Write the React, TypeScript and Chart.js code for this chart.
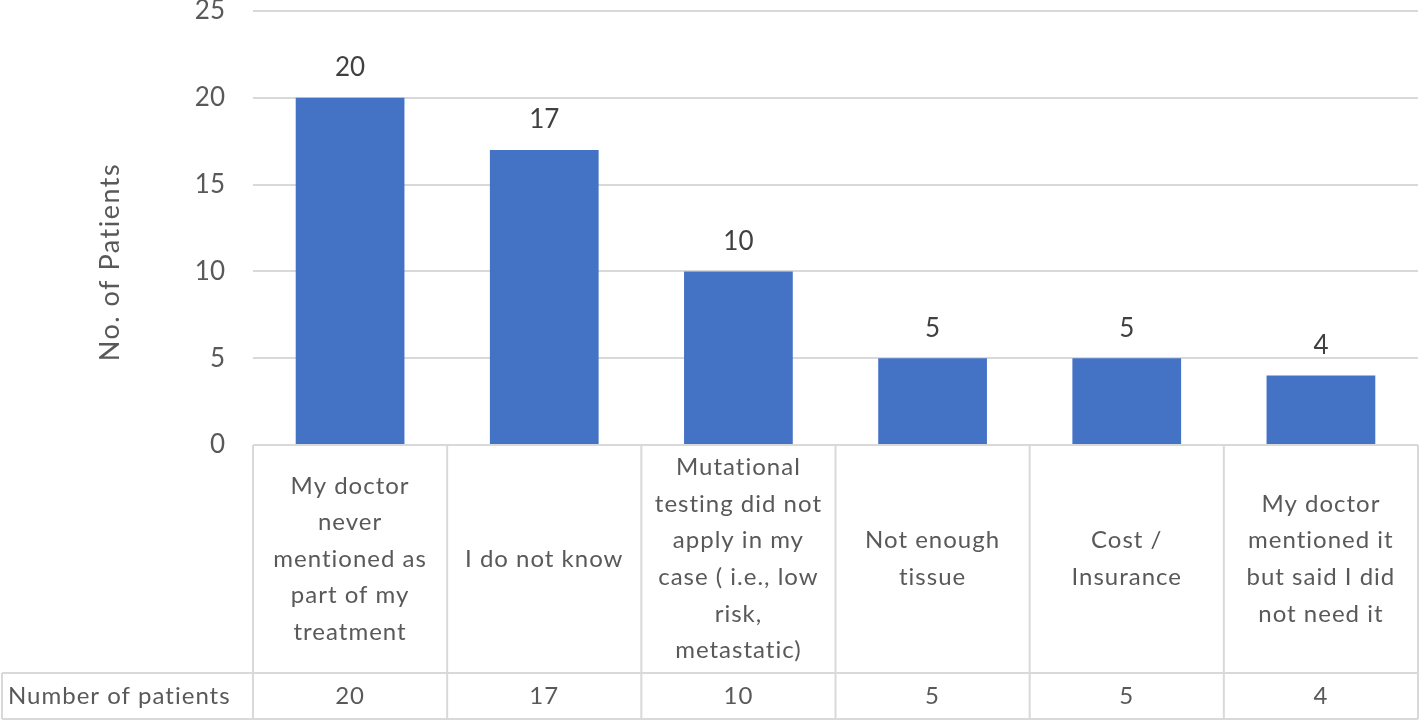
import React, { useEffect, useRef } from "react";
import { Chart, registerables } from "chart.js";

Chart.register(...registerables);

const categories: string[][] = [
  ["My doctor", "never", "mentioned as", "part of my", "treatment"],
  ["I do not know"],
  ["Mutational", "testing did not", "apply in my", "case ( i.e., low", "risk,", "metastatic)"],
  ["Not enough", "tissue"],
  ["Cost /", "Insurance"],
  ["My doctor", "mentioned it", "but said I did", "not need it"],
];
const seriesName = "Number of patients";
const values: number[] = [20, 17, 10, 5, 5, 4];
const yTicks: number[] = [0, 5, 10, 15, 20, 25];
const yTitle = "No. of Patients";

const FONT = "Lato, 'Open Sans', sans-serif";
const TEXT = "#595959";
const LINE = "#d9d9d9";

const tablePlugin = {
  id: "dataTable",
  afterDraw(chart: any) {
    const ctx = chart.ctx;
    const area = chart.chartArea;
    const n = categories.length;
    const colW = (area.right - area.left) / n;
    const top = area.bottom;
    const rowSplit = 673;
    const bottom = 719;
    const leftEdge = 2;
    ctx.save();
    // data labels
    const meta = chart.getDatasetMeta(0);
    ctx.fillStyle = "#404040";
    ctx.font = `26px ${FONT}`;
    ctx.textAlign = "center";
    ctx.textBaseline = "middle";
    meta.data.forEach((bar: any, i: number) => {
      ctx.fillText(String(values[i]), bar.x, bar.y - 30);
    });
    // y axis title
    ctx.save();
    ctx.fillStyle = TEXT;
    ctx.font = `27px ${FONT}`;
    (ctx as any).letterSpacing = "1.5px";
    ctx.translate(110, 262);
    ctx.rotate(-Math.PI / 2);
    ctx.fillText(yTitle, 0, 0);
    ctx.restore();
    // table lines
    ctx.strokeStyle = LINE;
    ctx.lineWidth = 2;
    ctx.beginPath();
    for (let i = 0; i <= n; i++) {
      const x = area.left + i * colW;
      ctx.moveTo(x, top);
      ctx.lineTo(x, bottom);
    }
    ctx.moveTo(leftEdge, rowSplit);
    ctx.lineTo(leftEdge, bottom);
    ctx.moveTo(leftEdge, rowSplit);
    ctx.lineTo(area.right, rowSplit);
    ctx.moveTo(leftEdge, bottom);
    ctx.lineTo(area.right, bottom);
    ctx.stroke();
    // category text
    ctx.fillStyle = TEXT;
    ctx.font = `24px ${FONT}`;
    (ctx as any).letterSpacing = "1px";
    const lh = 36.6;
    const midY = (top + rowSplit) / 2;
    categories.forEach((lines, i) => {
      const cx = area.left + (i + 0.5) * colW;
      const startY = midY - ((lines.length - 1) * lh) / 2;
      lines.forEach((ln, j) => ctx.fillText(ln, cx, startY + j * lh));
    });
    // number row
    const rowMid = (rowSplit + bottom) / 2;
    ctx.textAlign = "left";
    ctx.fillText(seriesName, 8, rowMid);
    ctx.textAlign = "center";
    values.forEach((v, i) => {
      const cx = area.left + (i + 0.5) * colW;
      ctx.fillText(String(v), cx, rowMid);
    });
    ctx.restore();
  },
};

export default function App() {
  const ref = useRef<HTMLCanvasElement>(null);
  useEffect(() => {
    if (!ref.current) return;
    const chart = new Chart(ref.current, {
      type: "bar",
      data: {
        labels: categories.map((c) => c.join(" ")),
        datasets: [
          {
            label: seriesName,
            data: values,
            backgroundColor: "#4472C4",
            categoryPercentage: 1,
            barPercentage: 0.56,
          },
        ],
      },
      options: {
        animation: false,
        responsive: false,
        maintainAspectRatio: false,
        layout: { padding: { top: 0, right: 2, bottom: 276, left: 0 } },
        plugins: { legend: { display: false }, tooltip: { enabled: false } },
        scales: {
          x: { display: false },
          y: {
            min: 0,
            max: 25,
            afterBuildTicks: (scale: any) => {
              scale.ticks = yTicks.map((v) => ({ value: v }));
            },
            afterFit: (scale: any) => {
              scale.width = 253;
              scale.paddingTop = 11;
              scale.paddingBottom = 0;
            },
            border: { display: false },
            grid: { color: LINE, lineWidth: 2, drawTicks: false },
            ticks: {
              padding: 28,
              color: TEXT,
              font: { family: FONT, size: 26 },
            },
            title: { display: false },
          },
        },
      },
      plugins: [tablePlugin],
    });
    return () => chart.destroy();
  }, []);
  return (
    <div style={{ position: "absolute", left: 0, top: 0, width: 1420, height: 721, background: "#fff" }}>
      <canvas ref={ref} width={1420} height={721} style={{ width: 1420, height: 721 }} />
    </div>
  );
}
